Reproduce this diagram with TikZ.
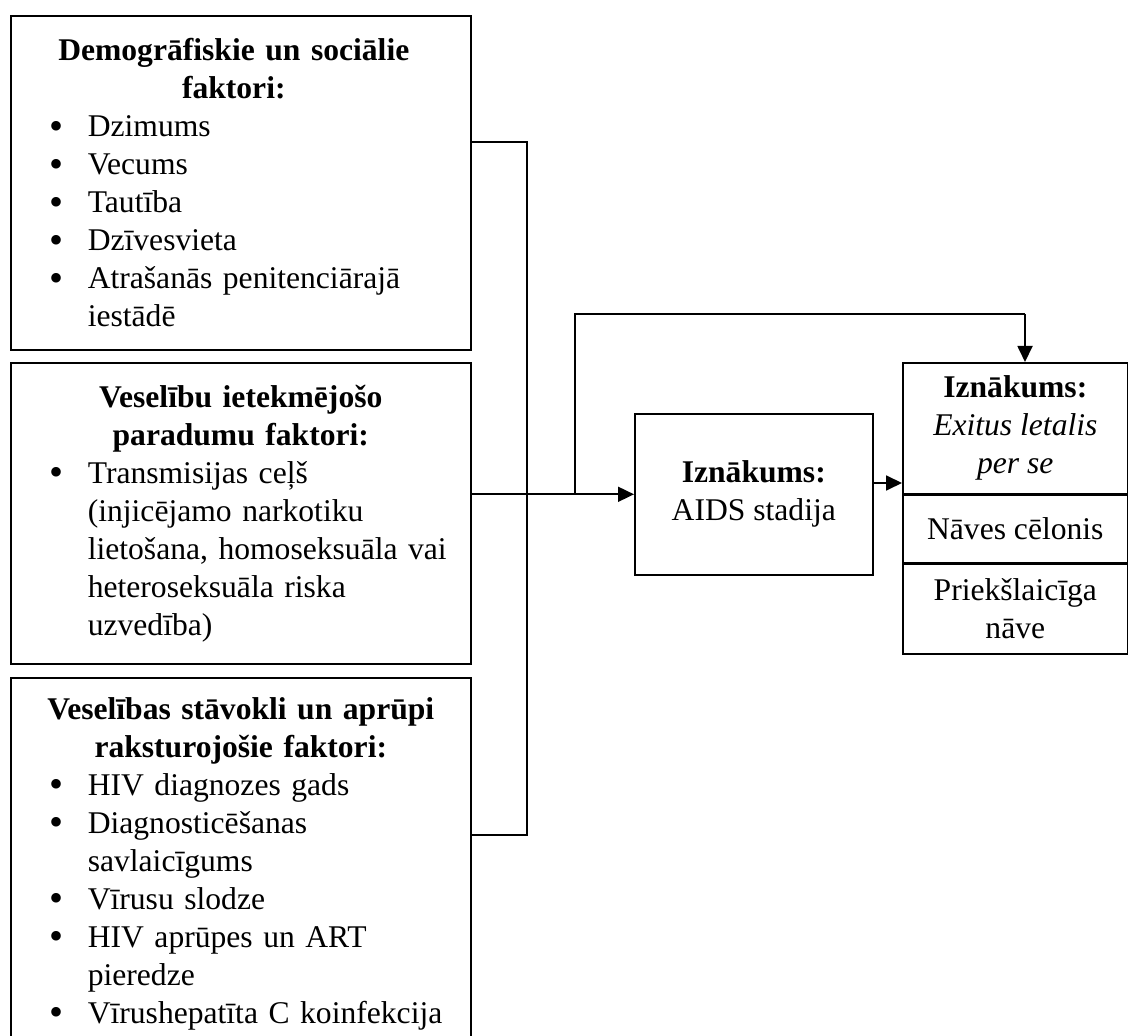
\documentclass[tikz,border=0pt]{standalone}
\usepackage{fontspec}
\setmainfont{Liberation Serif}
\usetikzlibrary{positioning,arrows.meta}

\newcommand{\bul}{\llap{\makebox[15pt][c]{\raisebox{-1.2pt}{\fontsize{20}{20}\selectfont •}}\hspace{8pt}}}
\newcommand{\itm}[1]{\par\noindent\bul#1}
\newcommand{\headline}[2][0pt]{{\centering\bfseries\advance\rightskip by #1\relax#2\par}}
\newenvironment{bullets}{\par\raggedright\leftskip=32.5pt}{\par}

\tikzset{
  factbox/.style={draw, line width=0.8pt, text width=218pt, inner xsep=6pt,
    anchor=north west, minimum width=230pt},
  outbox/.style={draw, line width=0.8pt, align=center, inner sep=2pt},
  link/.style={line width=0.7pt},
  arr/.style={line width=0.9pt, -{Triangle[length=8pt,width=7.5pt]}}
}

\begin{document}
\begin{tikzpicture}[x=0.5pt, y=-0.5pt, every node/.style={font=\fontsize{15.8}{19}\selectfont}]
\useasboundingbox (0,0) rectangle (1128,1036);

\node[factbox, minimum height=167pt] (demo) at (10,15) {%
\headline[7pt]{Demogrāfiskie un sociālie\\faktori:}
\begin{bullets}
\itm{Dzimums}
\itm{Vecums}
\itm{Tautība}
\itm{Dzīvesvieta}
\itm{Atrašanās penitenciārajā\\iestādē}
\end{bullets}};

\node[factbox, minimum height=150.5pt] (habit) at (10,362) {%
\headline{Veselību ietekmējošo\\paradumu faktori:}
\begin{bullets}
\itm{Transmisijas ceļš\\(injicējamo narkotiku\\lietošana, homoseksuāla vai\\heteroseksuāla riska\\uzvedība)}
\end{bullets}};

\node[factbox, minimum height=186pt] (care) at (10,677) {%
\headline{Veselības stāvokli un aprūpi\\raksturojošie faktori:}
\begin{bullets}
\itm{HIV diagnozes gads}
\itm{Diagnosticēšanas\\savlaicīgums}
\itm{Vīrusu slodze}
\itm{HIV aprūpes un ART\\pieredze}
\itm{Vīrushepatīta C koinfekcija}
\end{bullets}};

\node[outbox, anchor=north west, minimum width=119pt, minimum height=80.5pt] (aids) at (634,413) {\textbf{Iznākums:}\\AIDS stadija};

\node[outbox, anchor=north west, minimum width=112.5pt, minimum height=65.5pt] (exitus) at (902,362) {\textbf{Iznākums:}\\\textit{Exitus letalis}\\\textit{per se}};
\node[outbox, below=0pt of exitus, minimum width=112.5pt, minimum height=33.5pt] (cause) {Nāves cēlonis};
\node[outbox, below=0pt of cause, minimum width=112.5pt, minimum height=45pt] (early) {Priekšlaicīga\\nāve};

\coordinate (jointop) at (527,142);
\coordinate (jointbot) at (527,835);
\coordinate (fork) at (575,314);
\coordinate (drop) at (1025,314);
\coordinate (mid) at (887,483);

\draw[link] (demo.east |- jointop) -- (jointop) -- (jointbot) -- (care.east |- jointbot);
\draw[arr] (habit.east |- aids.west) -- (aids.west);
\draw[link] (fork |- aids.west) -- (fork) -- (drop);
\draw[arr] (drop) -- (drop |- exitus.north);
\draw[arr] (aids.east |- mid) -- (exitus.west |- mid);
\end{tikzpicture}
\end{document}
